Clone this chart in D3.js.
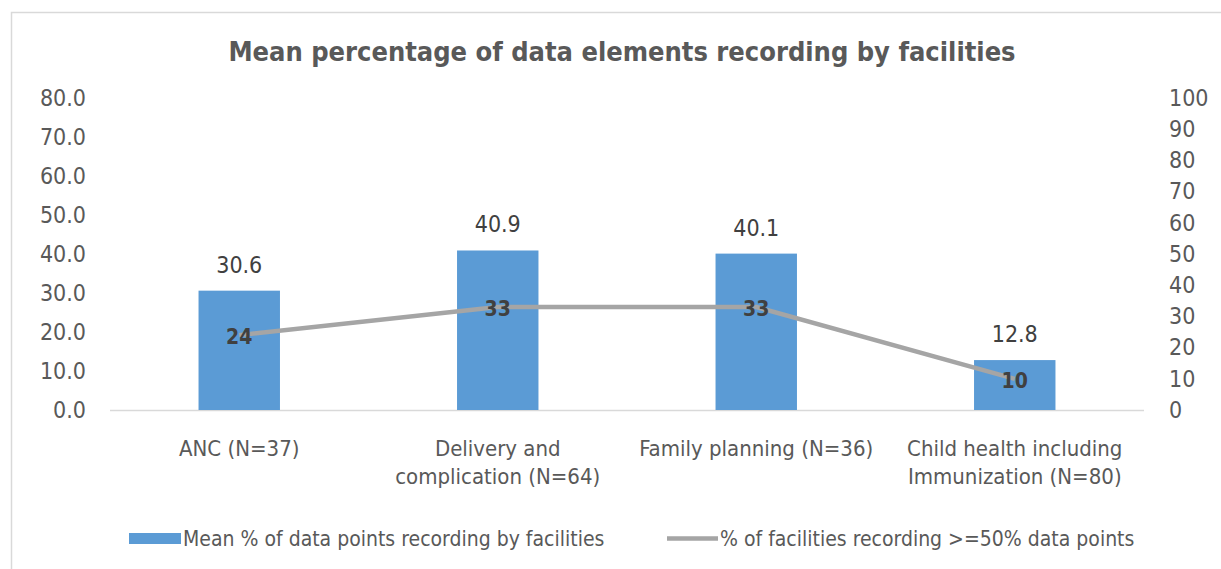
<!DOCTYPE html>
<html><head><meta charset="utf-8">
<script src="https://cdn.jsdelivr.net/npm/d3@7"></script>
<style>body{margin:0;background:#fff}svg{display:block}text{font-family:"DejaVu Sans Condensed","DejaVu Sans",sans-serif}</style>
</head><body><svg id="c" width="1221" height="569"></svg>
<script>
const categories = [["ANC (N=37)"], ["Delivery and","complication (N=64)"], ["Family planning (N=36)"], ["Child health including","Immunization (N=80)"]];
const barValues = [30.6, 40.9, 40.1, 12.8];
const lineValues = [24, 33, 33, 10];
const leftTicks = [0,10,20,30,40,50,60,70,80];
const rightTicks = [0,10,20,30,40,50,60,70,80,90,100];
const title = "Mean percentage of data elements recording by facilities";
const legendLabels = ["Mean % of data points recording by facilities", "% of facilities recording >=50% data points"];

const svg = d3.select("#c");
const m={l:110,r:1144,t:98,b:410};
svg.append("rect").attr("x",11.5).attr("y",12.5).attr("width",1300).attr("height",700).attr("fill","#fff").attr("stroke","#d9d9d9").attr("stroke-width",1.5);

const x = d3.scaleBand().domain(d3.range(categories.length)).range([m.l,m.r]).paddingInner(0.685).paddingOuter(0.3425);
const yL = d3.scaleLinear().domain([0,80]).range([m.b,m.t]);
const yR = d3.scaleLinear().domain([0,100]).range([m.b,m.t]);

svg.append("text").attr("x",622).attr("y",61).attr("text-anchor","middle").attr("font-size",27).attr("font-weight","bold").attr("fill","#595959").text(title);

const la = svg.append("g").attr("transform",`translate(${m.l},0)`).call(d3.axisLeft(yL).tickValues(leftTicks).tickFormat(d3.format(".1f")).tickSize(0).tickPadding(24));
la.select(".domain").remove();
la.selectAll("text").attr("font-size",23).attr("fill","#595959").attr("font-family","DejaVu Sans Condensed");
const ra = svg.append("g").attr("transform",`translate(${m.r},0)`).call(d3.axisRight(yR).tickValues(rightTicks).tickSize(0).tickPadding(25));
ra.select(".domain").remove();
ra.selectAll("text").attr("font-size",23).attr("fill","#595959").attr("font-family","DejaVu Sans Condensed");

svg.append("line").attr("x1",m.l).attr("x2",m.r).attr("y1",m.b+0.5).attr("y2",m.b+0.5).attr("stroke","#d9d9d9").attr("stroke-width",1.5);

svg.selectAll(".bar").data(barValues).join("rect").attr("class","bar")
 .attr("x",(d,i)=>x(i)).attr("width",x.bandwidth()).attr("y",d=>yL(d)).attr("height",d=>yL(0)-yL(d)).attr("fill","#5B9BD5");
svg.selectAll(".bl").data(barValues).join("text").attr("class","bl")
 .attr("x",(d,i)=>x(i)+x.bandwidth()/2).attr("y",d=>yL(d)-18).attr("text-anchor","middle").attr("font-size",23).attr("fill","#404040").text(d=>d.toFixed(1));

const line = d3.line().x((d,i)=>x(i)+x.bandwidth()/2).y(d=>yR(d));
svg.append("path").datum(lineValues).attr("d",line).attr("fill","none").attr("stroke","#A5A5A5").attr("stroke-width",4.5).attr("stroke-linejoin","round");
svg.selectAll(".ll").data(lineValues).join("text").attr("class","ll")
 .attr("x",(d,i)=>x(i)+x.bandwidth()/2).attr("y",d=>yR(d)+9).attr("text-anchor","middle").attr("font-size",21).attr("font-weight","bold").attr("fill","#404040").text(d=>d);

categories.forEach((lines,i)=>{
  const cx = x(i)+x.bandwidth()/2;
  const t = svg.append("text").attr("x",cx).attr("y",456).attr("text-anchor","middle").attr("font-size",22).attr("fill","#595959");
  lines.forEach((s,j)=>t.append("tspan").attr("x",cx).attr("dy",j?28:0).text(s));
});

svg.append("rect").attr("x",129).attr("y",533).attr("width",52).attr("height",11).attr("fill","#5B9BD5");
svg.append("text").attr("x",183).attr("y",546).attr("font-size",21).attr("fill","#595959").text(legendLabels[0]);
svg.append("line").attr("x1",667).attr("x2",718).attr("y1",538.5).attr("y2",538.5).attr("stroke","#A5A5A5").attr("stroke-width",4.5);
svg.append("text").attr("x",720).attr("y",546).attr("font-size",21).attr("fill","#595959").text(legendLabels[1]);
</script></body></html>
